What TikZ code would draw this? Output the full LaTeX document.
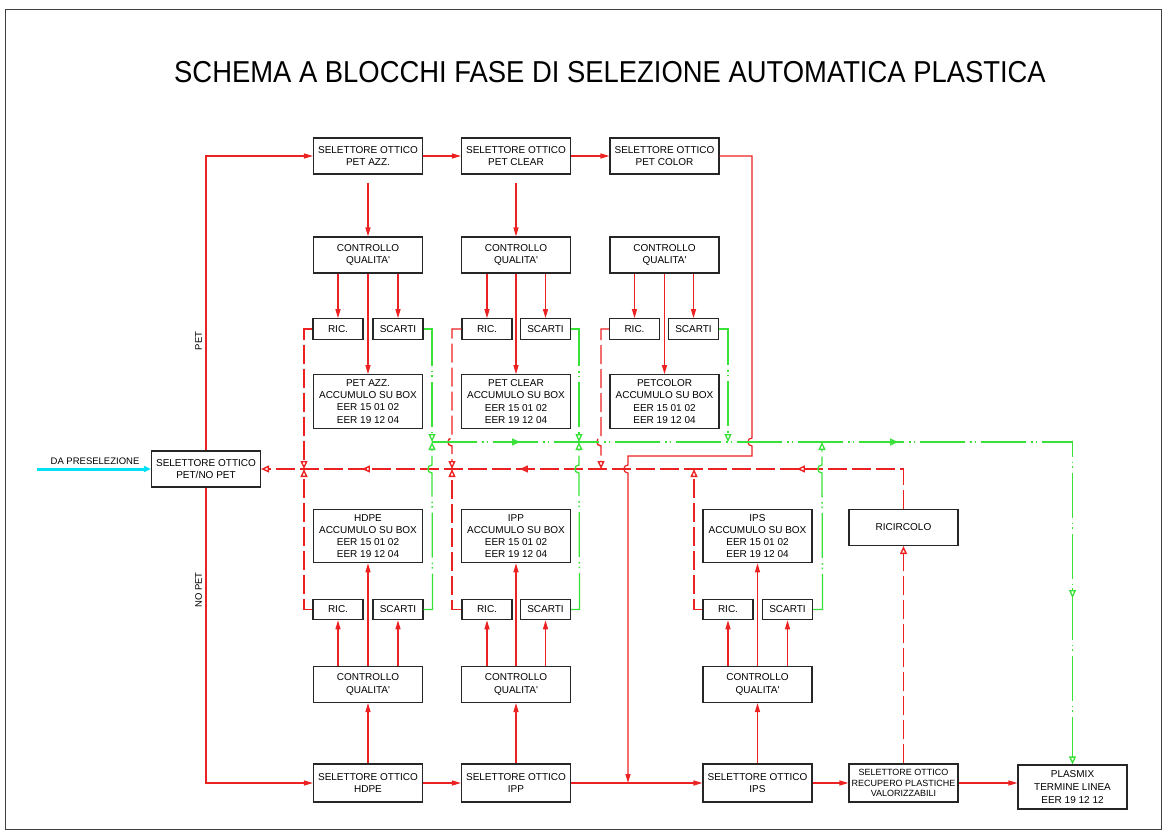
\documentclass[tikz,border=0pt]{standalone}
\usepackage{fontspec}
\setmainfont{Liberation Sans}[Ligatures=TeXOff]
\usetikzlibrary{arrows.meta,decorations.markings,calc}
\definecolor{rl}{RGB}{236,34,34}
\definecolor{gl}{RGB}{55,225,55}
\definecolor{cl}{RGB}{0,225,245}
\tikzset{
  box/.style={draw=black!85, line width=1.1pt, fill=white, inner sep=0pt, align=center,
    font=\fontsize{10}{12.3}\selectfont, minimum width=109pt, minimum height=36pt},
  smallbox/.style={box, minimum width=50pt, minimum height=20.5pt},
  accbox/.style={box, minimum height=53.5pt, font=\fontsize{10}{12.2}\selectfont},
  rs/.style={draw=rl, line width=1.2pt},
  rd/.style={draw=rl, line width=1.4pt, dash pattern=on 19pt off 5pt},
  gd/.style={draw=gl, line width=1.3pt, dash pattern=on 45pt off 5pt on 1.5pt off 3pt on 1.5pt off 5pt},
  fa/.style={-{Triangle[length=9pt,width=5pt]}},
  oa/.style={-{Triangle[open,length=8pt,width=7pt]}},
  lbl/.style={font=\fontsize{9.5}{11}\selectfont, inner sep=0pt}
}
\begin{document}
\begin{tikzpicture}[x=1pt,y=-1pt]
\useasboundingbox (0,0) rectangle (1165,830);
\draw[black!75, line width=1pt] (5,9) rectangle (1161,829);

\node[inner sep=0pt] (title) at (610,72) {\scalebox{1.015}[1.12]{\fontsize{27}{30}\selectfont SCHEMA A BLOCCHI FASE DI SELEZIONE AUTOMATICA PLASTICA}};

% main selector
\node[box] (pn) at (206,469) {SELETTORE OTTICO\\PET/NO PET};
% top row
\node[box] (sA) at (368,156) {SELETTORE OTTICO\\PET AZZ.};
\node[box] (sC) at (516,156) {SELETTORE OTTICO\\PET CLEAR};
\node[box] (sO) at (664.5,156) {SELETTORE OTTICO\\PET COLOR};
\node[box] (cqA) at (368,255) {CONTROLLO\\QUALITA'};
\node[box] (cqC) at (516,255) {CONTROLLO\\QUALITA'};
\node[box] (cqO) at (664.5,255) {CONTROLLO\\QUALITA'};
\node[smallbox] (ricA) at (338,329) {RIC.};
\node[smallbox] (scA) at (398,329) {SCARTI};
\node[smallbox] (ricC) at (487,329) {RIC.};
\node[smallbox] (scC) at (545.5,329) {SCARTI};
\node[smallbox] (ricO) at (634.5,329) {RIC.};
\node[smallbox] (scO) at (693.5,329) {SCARTI};
\node[accbox] (acA) at (368,401.5) {PET AZZ.\\ACCUMULO SU BOX\\EER 15 01 02\\EER 19 12 04};
\node[accbox] (acC) at (516,401.5) {PET CLEAR\\ACCUMULO SU BOX\\EER 15 01 02\\EER 19 12 04};
\node[accbox] (acO) at (664.5,401.5) {PETCOLOR\\ACCUMULO SU BOX\\EER 15 01 02\\EER 19 12 04};
% lower part
\node[accbox] (acH) at (368,536) {HDPE\\ACCUMULO SU BOX\\EER 15 01 02\\EER 19 12 04};
\node[accbox] (acP) at (516,536) {IPP\\ACCUMULO SU BOX\\EER 15 01 02\\EER 19 12 04};
\node[accbox] (acS) at (757.5,536) {IPS\\ACCUMULO SU BOX\\EER 15 01 02\\EER 19 12 04};
\node[box] (rc) at (903.5,527.5) {RICIRCOLO};
\node[smallbox] (ricH) at (338,609.5) {RIC.};
\node[smallbox] (scH) at (398,609.5) {SCARTI};
\node[smallbox] (ricP) at (487,609.5) {RIC.};
\node[smallbox] (scP) at (545.5,609.5) {SCARTI};
\node[smallbox] (ricS) at (728,609.5) {RIC.};
\node[smallbox] (scS) at (787.5,609.5) {SCARTI};
\node[box] (cqH) at (368,684.5) {CONTROLLO\\QUALITA'};
\node[box] (cqP) at (516,684.5) {CONTROLLO\\QUALITA'};
\node[box] (cqS) at (757.5,684.5) {CONTROLLO\\QUALITA'};
% bottom row
\node[box, minimum height=38pt] (hd) at (368,783) {SELETTORE OTTICO\\HDPE};
\node[box, minimum height=38pt] (ip) at (516,783) {SELETTORE OTTICO\\IPP};
\node[box, minimum height=38pt] (is) at (757.5,783) {SELETTORE OTTICO\\IPS};
\node[box, minimum height=38pt, font=\fontsize{9}{10.8}\selectfont] (rp) at (903.5,783) {SELETTORE OTTICO\\RECUPERO PLASTICHE\\VALORIZZABILI};
\node[box, minimum height=44pt, font=\fontsize{10}{13}\selectfont] (pm) at (1072.5,787) {PLASMIX\\TERMINE LINEA\\EER 19 12 12};

% labels
\node[lbl, rotate=90] (lpet) at (198.5,341) {PET};
\node[lbl, rotate=90] (lnopet) at (198.5,590) {NO PET};
\node[lbl] (lda) at (95,461.5) {DA PRESELEZIONE};

% cyan input
\coordinate (cin) at (37,469);
\draw[draw=cl, line width=3pt, -{Triangle[length=7pt,width=6pt]}] (cin) -- (pn.west);

% red solid main flow
\draw[rs,fa] (pn.north) |- (sA.west);
\draw[rs,fa] (pn.south) |- (hd.west);
\draw[rs,fa] (sA.east) -- (sC.west);
\draw[rs,fa] (sC.east) -- (sO.west);
\draw[rs,fa,shorten <=8pt] (sA.south) -- (cqA.north);
\draw[rs,fa,shorten <=8pt] (sC.south) -- (cqC.north);
\foreach \c in {A,C,O}{
  \draw[rs,fa] (ric\c.north |- cq\c.south) -- (ric\c.north);
  \draw[rs,fa] (sc\c.north |- cq\c.south) -- (sc\c.north);
  \draw[rs,fa] (cq\c.south) -- (ac\c.north);
}
\foreach \c in {H,P,S}{
  \draw[rs,fa] (ric\c.south |- cq\c.north) -- (ric\c.south);
  \draw[rs,fa] (sc\c.south |- cq\c.north) -- (sc\c.south);
  \draw[rs,fa] (cq\c.north) -- (ac\c.south);
}
\draw[rs,fa] (hd.north) -- (cqH.south);
\draw[rs,fa] (ip.north) -- (cqP.south);
\draw[rs,fa] (is.north) -- (cqS.south);
\draw[rs,fa] (hd.east) -- (ip.west);
\draw[rs,fa] (ip.east) -- (is.west);
\draw[rs,fa] (is.east) -- (rp.west);
\draw[rs,fa] (rp.east) -- (rp.east -| pm.west);
\coordinate (jn) at (628,783);
\draw[rs,fa] (sO.east) -- (752,156) -- (752,438) .. controls (746.5,438) and (746.5,446) .. (752,446)
  -- (752,456) -- (628,456) -- (628,465) .. controls (622.5,465) and (622.5,473) .. (628,473) -- (jn);

% red dashed recirculation
\draw[rd,oa,postaction={decorate},decoration={markings,
   mark=at position 146.5pt with {\arrow{Triangle[open,length=8pt,width=7pt]}},
   mark=at position 423.5pt with {\arrow{Triangle[open,length=8pt,width=7pt]}},
   mark=at position 581.5pt with {\arrow{Triangle[open,length=8pt,width=7pt]}}}]
   (rc.north) |- (pn.east);
\draw[rd,oa] (rp.north) -- (rc.south);
\draw[rd,oa] (ricA.west) -| (304,469);
\draw[rd,oa] (ricC.west) -- (452,329) -- (452,438) .. controls (446.5,438) and (446.5,446) .. (452,446) -- (452,469);
\draw[rd,oa] (ricO.west) -- (601,329) -- (601,438) .. controls (595.5,438) and (595.5,446) .. (601,446) -- (601,469);
\draw[rd,oa] (ricH.west) -| (304,469);
\draw[rd,oa] (ricP.west) -| (452,469);
\draw[rd,oa] (ricS.west) -| (694,469);

% green scrap line
\draw[gd,oa,postaction={decorate},decoration={markings,
   mark=at position 88pt with {\arrow{Triangle[open,length=8pt,width=7pt]}},
   mark=at position 466pt with {\arrow{Triangle[open,length=8pt,width=7pt]}},
   mark=at position 796.5pt with {\arrow{Triangle[open,length=8pt,width=7pt]}}}]
   (432,442) -- (1072.5,442) -- (pm.north);
\draw[gd,oa] (scA.east) -| (432,442);
\draw[gd,oa] (scC.east) -| (579,442);
\draw[gd,oa] (scO.east) -| (728,442);
\draw[gd,oa] (scH.east) -- ++(9,0) -- (432,473) .. controls (426.5,473) and (426.5,465) .. (432,465) -- (432,442);
\draw[gd,oa] (scP.east) -- ++(8.5,0) -- (579,473) .. controls (573.5,473) and (573.5,465) .. (579,465) -- (579,442);
\draw[gd,oa] (scS.east) -- ++(9.5,0) -- (822,473) .. controls (816.5,473) and (816.5,465) .. (822,465) -- (822,442);
\end{tikzpicture}
\end{document}
